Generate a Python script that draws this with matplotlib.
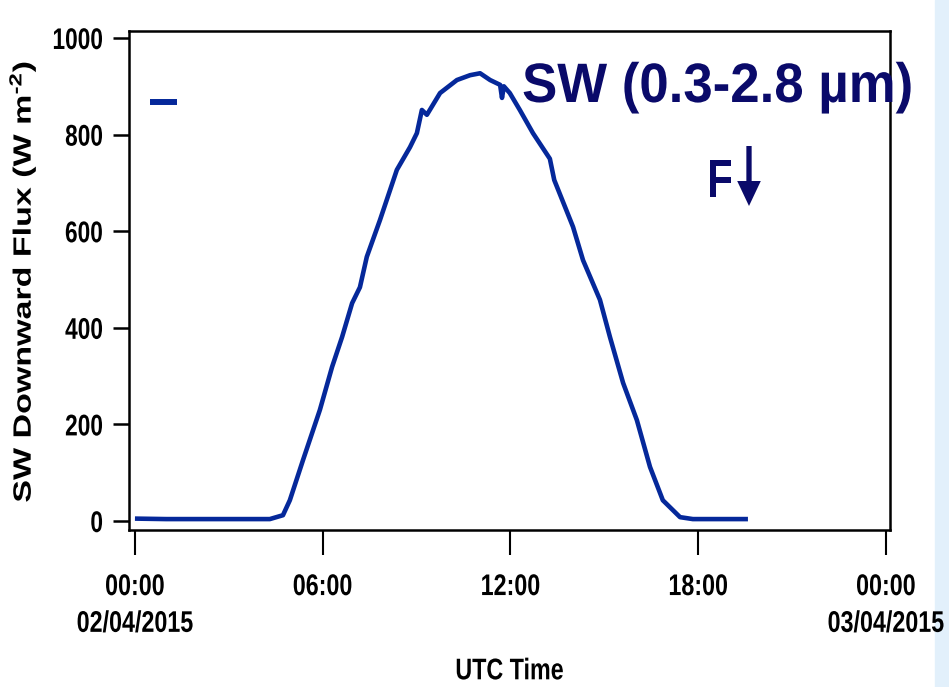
import matplotlib
matplotlib.use("Agg")
import matplotlib.pyplot as plt
from matplotlib.lines import Line2D
from matplotlib.patches import Rectangle
from matplotlib.patheffects import AbstractPathEffect
from matplotlib.transforms import Affine2D

# ---- data ----
hours = [0.0, 1.0, 2.0, 3.0, 4.0, 4.31, 4.73, 4.95, 5.37, 5.91, 6.30, 6.62, 6.94,
         7.19, 7.41, 7.83, 8.37, 8.79, 9.01, 9.17, 9.33, 9.75, 10.29, 10.71,
         11.03, 11.35, 11.67, 11.73, 11.79, 11.98, 12.30, 12.72, 13.26, 13.40,
         14.00, 14.32, 14.86, 15.18, 15.60, 16.04, 16.46, 16.87, 17.42, 17.83,
         18.5, 19.59]
flux = [5, 4, 4, 4, 4, 4, 12, 43, 126, 230, 319, 381, 451,
        484, 547, 623, 727, 774, 803, 851, 841, 886, 913, 923,
        927, 913, 903, 876, 900, 886, 851, 803, 750, 706,
        609, 540, 458, 381, 286, 209, 112, 43, 8, 4,
        4, 4]
yticks = [0, 200, 400, 600, 800, 1000]
xticks = [0, 6, 12, 18, 24]
xticklabels = ["00:00\n02/04/2015", "06:00", "12:00", "18:00", "00:00\n03/04/2015"]

LINE = "#05289a"
NAVY = "#0a0a6a"
FONT = "Liberation Sans"

plt.rcParams["mathtext.fontset"] = "custom"
plt.rcParams["mathtext.rm"] = "Liberation Sans:bold"
plt.rcParams["mathtext.bf"] = "Liberation Sans:bold"
plt.rcParams["mathtext.it"] = "Liberation Sans:bold"


class Stretch(AbstractPathEffect):
    """Scale glyph outlines along the text direction (the reference is
    non-uniformly scaled), keeping the given anchor fixed."""

    def __init__(self, sx, anchor="center"):
        super().__init__()
        self.sx = sx
        self.anchor = anchor

    def draw_path(self, renderer, gc, tpath, affine, rgbFace=None):
        ext = tpath.get_extents()
        if self.anchor == "right":
            cx = ext.x1
        elif self.anchor == "left":
            cx = ext.x0
        else:
            cx = 0.5 * (ext.x0 + ext.x1)
        t = Affine2D().translate(-cx, 0).scale(self.sx, 1).translate(cx, 0) + affine
        renderer.draw_path(gc, tpath, t, rgbFace)


fig = plt.figure(figsize=(9.49, 6.87), dpi=100)
fig.patches.append(Rectangle((935 / 949, 0), 14 / 949, 1, transform=fig.transFigure,
                             color="#e2f0fb", zorder=-5))
ax = fig.add_axes([129 / 949, 1 - 530 / 687, 761 / 949, 499 / 687])
ax.set_zorder(2)
ax.patch.set_alpha(0)

ax.plot(hours, flux, color=LINE, lw=3.3, solid_capstyle="butt", solid_joinstyle="round")

ax.set_xlim(-0.19, 24.13)
ax.set_ylim(-18.6, 1014.5)

for s in ax.spines.values():
    s.set_linewidth(1.8)

ax.set_yticks(yticks)
ax.set_yticklabels([str(v) for v in yticks])
ax.set_xticks(xticks)
ax.set_xticklabels(xticklabels, linespacing=1.4)
ax.tick_params(axis="y", direction="out", length=11.5, width=1.8, pad=7)
ax.tick_params(axis="x", direction="out", length=18, width=1.5, pad=13)
for lab in ax.get_yticklabels():
    lab.set_fontfamily(FONT)
    lab.set_fontweight("bold")
    lab.set_fontsize(21.5)
    lab.set_path_effects([Stretch(0.76, "right")])
for lab in ax.get_xticklabels():
    lab.set_fontfamily(FONT)
    lab.set_fontweight("bold")
    lab.set_fontsize(21.5)
    lab.set_path_effects([Stretch(0.78, "center")])

ax.set_xlabel("UTC Time", fontfamily=FONT, fontweight="bold", fontsize=21.5, labelpad=14,
              path_effects=[Stretch(0.78, "center")])
ax.set_ylabel("SW Downward Flux (W m$^{\\text{-2}}$)", fontfamily=FONT,
              fontweight="bold", fontsize=18, path_effects=[Stretch(1.36, "center")])
ax.yaxis.label.set_va("center")
ax.yaxis.set_label_coords((22 - 129) / 761, (530 - 281.5) / 499)

ax.legend(handles=[Line2D([], [], color=LINE, lw=4.3, solid_capstyle="butt")], labels=[""],
          loc="center left", bbox_to_anchor=((150 - 129) / 761, (530 - 103) / 499),
          frameon=False, handlelength=1.95, handletextpad=0, borderpad=0, borderaxespad=0)

fig.text(522 / 949, 1 - 102 / 687, "SW (0.3-2.8 µm)", fontfamily=FONT,
         fontweight="bold", fontsize=40, color=NAVY, ha="left", va="baseline",
         path_effects=[Stretch(0.95, "left")], zorder=5)
fig.text(706 / 949, 1 - 197 / 687, "F", fontfamily=FONT,
         fontweight="bold", fontsize=39, color=NAVY, ha="left", va="baseline",
         path_effects=[Stretch(0.78, "left")], zorder=5)
ax.annotate("", xy=(749 / 949, 1 - 206 / 687), xytext=(749 / 949, 1 - 146 / 687),
            xycoords="figure fraction", textcoords="figure fraction",
            arrowprops=dict(width=3.8, headwidth=17, headlength=18, color=NAVY,
                            shrink=0, lw=0))

fig.savefig("out.png", dpi=100)
